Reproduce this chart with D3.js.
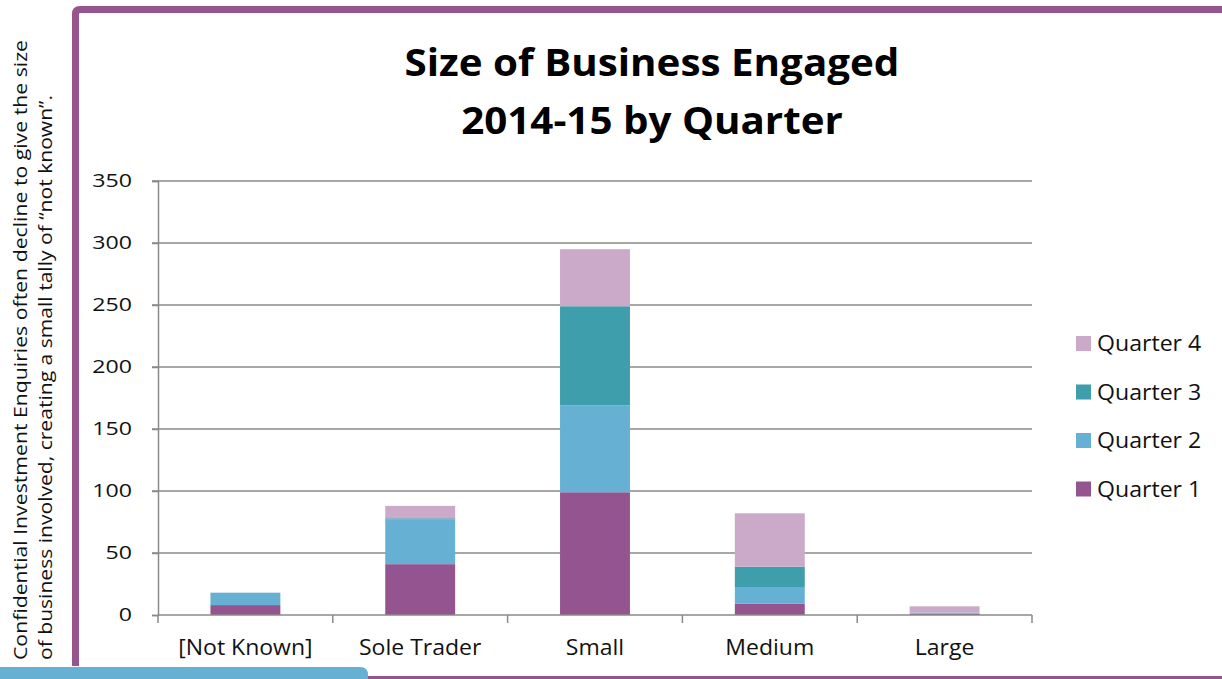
<!DOCTYPE html>
<html>
<head>
<meta charset="utf-8">
<script src="https://cdn.jsdelivr.net/npm/d3@7"></script>
<style>
  body { margin: 0; background: #fff; }
  svg { display: block; font-family: "Open Sans", sans-serif; }
</style>
</head>
<body>
<svg id="chart"></svg>
<script>
const categories = ['[Not Known]', 'Sole Trader', 'Small', 'Medium', 'Large']
const seriesNames = ['Quarter 1', 'Quarter 2', 'Quarter 3', 'Quarter 4']
const quarter1 = [8, 41, 99, 9, 1]
const quarter2 = [10, 36, 70, 13, 1]
const quarter3 = [0, 1, 80, 17, 0]
const quarter4 = [0, 10, 46, 43, 5]
const yTicks = [0, 50, 100, 150, 200, 250, 300, 350]
const colors = ['#94548f', '#66b1d3', '#3e9eab', '#cba9c9']
const titleLines = ['Size of Business Engaged', '2014-15 by Quarter']
const sideNote = ['Confidential Investment Enquiries often decline to give the size',
                  'of business involved, creating a small tally of \u201cnot known\u201d.']

const W = 1222, H = 679
const margin = {top: 181, left: 158, right: 190, bottom: 64}
const width = W - margin.left - margin.right
const height = H - margin.top - margin.bottom

const svg = d3.select('#chart').attr('width', W).attr('height', H)

// the source picture is a little wider than its fonts, so stretch text
function stretch(sel, k) {
    sel.each(function () {
        const len = this.getComputedTextLength()
        d3.select(this).attr('textLength', len * k).attr('lengthAdjust', 'spacingAndGlyphs')
    })
}

// frame decoration
svg.append('path')
    .attr('d', `M75.5,666 V14 Q75.5,9.5 80,9.5 H1222`)
    .attr('fill', 'none').attr('stroke', '#97558f').attr('stroke-width', 7)
svg.append('line')
    .attr('x1', 368).attr('x2', W).attr('y1', 677.5).attr('y2', 677.5)
    .attr('stroke', '#97558f').attr('stroke-width', 3)
svg.append('path')
    .attr('d', `M0,667 H360 Q368,667 368,675 V679 H0 Z`)
    .attr('fill', '#66b1d3')

// rotated side note, anchored at the bottom
const noteLen = [620, 565]
sideNote.forEach((t, i) => {
    svg.append('text')
        .attr('transform', `translate(${27 + i * 25},660) rotate(-90)`)
        .attr('text-anchor', 'start')
        .attr('font-size', 18)
        .attr('fill', '#111')
        .attr('textLength', noteLen[i])
        .attr('lengthAdjust', 'spacingAndGlyphs')
        .text(t)
})

// title
const title = svg.append('g').selectAll('text')
    .data(titleLines)
    .join('text')
        .attr('x', 652).attr('y', (d, i) => 76 + i * 58)
        .attr('text-anchor', 'middle')
        .attr('font-size', 37).attr('font-weight', 'bold')
        .text(d => d)
stretch(title, 1.09)

const chart = svg.append('g').attr('transform', `translate(${margin.left},${margin.top})`)

const xScale = d3.scaleBand().domain(categories).range([0, width]).paddingInner(0.6).paddingOuter(0.3)
const xOuter = d3.scaleBand().domain(categories).range([0, width])
const yScale = d3.scaleLinear().domain([0, 350]).range([height, 0])

const rows = categories.map((c, i) => ({
    category: c,
    'Quarter 1': quarter1[i], 'Quarter 2': quarter2[i],
    'Quarter 3': quarter3[i], 'Quarter 4': quarter4[i]
}))
const stacked = d3.stack().keys(seriesNames)(rows)

// gridlines
chart.append('g').selectAll('line')
    .data(yTicks.slice(1))
    .join('line')
        .attr('x1', -6).attr('x2', width)
        .attr('y1', d => yScale(d)).attr('y2', d => yScale(d))
        .attr('stroke', '#8a8a8a').attr('stroke-width', 1.5)

// bars
chart.append('g').selectAll('g')
    .data(stacked)
    .join('g')
        .attr('fill', (d, i) => colors[i])
    .selectAll('rect')
    .data(d => d)
    .join('rect')
        .attr('x', d => xScale(d.data.category))
        .attr('width', xScale.bandwidth())
        .attr('y', d => yScale(d[1]))
        .attr('height', d => yScale(d[0]) - yScale(d[1]))

// axes
const yAxis = d3.axisLeft(yScale).tickValues(yTicks).tickSize(6).tickPadding(20)
const yAxisG = chart.append('g').call(yAxis)
yAxisG.select('.domain').attr('stroke', '#8a8a8a').attr('stroke-width', 1.5)
yAxisG.selectAll('.tick line').attr('stroke', '#8a8a8a').attr('stroke-width', 1.5)
yAxisG.selectAll('text').attr('font-size', 18.5).attr('fill', '#111')
    .attr('font-family', '"Open Sans", sans-serif')
stretch(yAxisG.selectAll('text'), 1.25)

const xAxis = d3.axisBottom(xScale).tickSize(0).tickPadding(25)
const xAxisG = chart.append('g').attr('transform', `translate(0,${height})`).call(xAxis)
xAxisG.select('.domain').remove()
xAxisG.selectAll('text').attr('font-size', 21.5).attr('fill', '#111')
    .attr('font-family', '"Open Sans", sans-serif')
stretch(xAxisG.selectAll('text'), 1.07)

const bounds = categories.map(c => xOuter(c)).concat([width])
chart.append('line')
    .attr('x1', 0).attr('x2', width).attr('y1', height).attr('y2', height)
    .attr('stroke', '#8a8a8a').attr('stroke-width', 1.5)
chart.append('g').selectAll('line')
    .data(bounds)
    .join('line')
        .attr('x1', d => d).attr('x2', d => d)
        .attr('y1', height).attr('y2', height + 8)
        .attr('stroke', '#8a8a8a').attr('stroke-width', 1.5)

// legend
const legend = svg.append('g').attr('transform', 'translate(1076,343.5)')
const legendItems = seriesNames.slice().reverse()
legend.selectAll('g')
    .data(legendItems)
    .join('g')
        .attr('transform', (d, i) => `translate(0,${i * 48.5})`)
        .each(function (d) {
            const g = d3.select(this)
            g.append('rect').attr('x', 0).attr('y', -7.5).attr('width', 15).attr('height', 15)
                .attr('fill', colors[seriesNames.indexOf(d)])
            g.append('text').attr('x', 21).attr('y', 7.5).attr('font-size', 21)
                .attr('fill', '#111').text(d)
        })
stretch(legend.selectAll('text'), 1.1)
</script>
</body>
</html>
